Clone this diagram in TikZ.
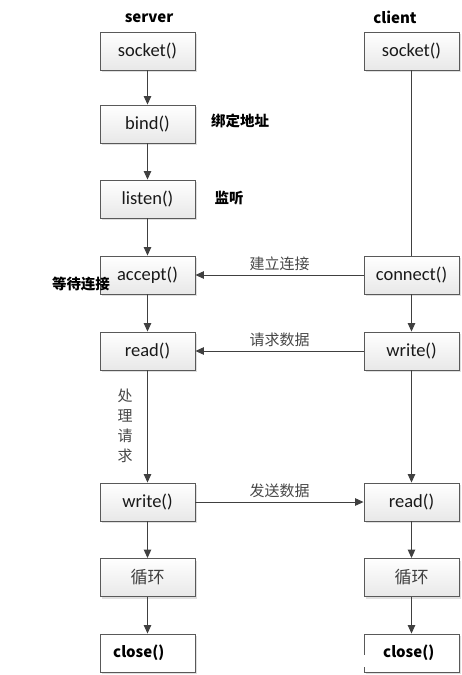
\documentclass[tikz,border=0pt]{standalone}
\usepackage{fontspec}
\setmainfont{Carlito}
\newfontfamily\cjk{Noto Sans CJK SC}
\usetikzlibrary{arrows.meta,shadows}
\definecolor{edge}{HTML}{595959}
\definecolor{wire}{HTML}{404040}
\begin{document}
\begin{tikzpicture}[x=1pt,y=1pt,
  fn/.style={draw=edge, line width=0.9pt, minimum width=95pt, minimum height=38pt,
    inner sep=0pt, top color=white, bottom color=black!9, text=black!90,
    font=\fontsize{18.5}{21}\selectfont,
    drop shadow={shadow xshift=2pt, shadow yshift=-2pt, fill=black!18, opacity=0.7}},
  endbox/.style={draw=edge, line width=0.9pt, minimum width=95pt, minimum height=38pt,
    inner sep=0pt, fill=white,
    drop shadow={shadow xshift=2pt, shadow yshift=-2pt, fill=black!18, opacity=0.7}},
  boldlbl/.style={font=\cjk\bfseries\fontsize{14.5}{17}\selectfont, text=black, inner sep=0pt},
  headlbl/.style={font=\cjk\bfseries\fontsize{15}{18}\selectfont, text=black, inner sep=0pt},
  msglbl/.style={font=\cjk\fontsize{15}{18}\selectfont, text=black!72, inner sep=0pt},
  flow/.style={draw=wire, line width=1pt, -{Triangle[width=7.5pt,length=8.5pt]}},
  wireline/.style={draw=wire, line width=1pt}]
\useasboundingbox (0,0) rectangle (462,-675);

% column headings
\node[headlbl] (hs) at (149,-18) {server};
\node[headlbl] (hc) at (395,-17) {client};

% server side
\node[fn] (ssock)   at (147.5,-51)  {socket()};
\node[fn] (sbind)   at (147.5,-124) {bind()};
\node[fn] (slisten) at (147.5,-199) {listen()};
\node[fn] (saccept) at (147.5,-275) {accept()};
\node[fn] (sread)   at (147.5,-351) {read()};
\node[fn] (swrite)  at (147.5,-502) {write()};
\node[fn, font=\cjk\fontsize{17}{20}\selectfont, text=black!75] (sloop) at (147.5,-577.5) {循环};
\node[endbox] (sclose) at (147.5,-653) {};
\node[headlbl, anchor=west] (sclosetxt) at (113,-653) {close()};

% client side
\node[fn] (csock)    at (411.5,-51)  {socket()};
\node[fn] (cconnect) at (411.5,-275) {connect()};
\node[fn] (cwrite)   at (411.5,-351) {write()};
\node[fn] (cread)    at (411.5,-502) {read()};
\node[fn, font=\cjk\fontsize{17}{20}\selectfont, text=black!75] (cloop) at (411.5,-577.5) {循环};
\node[endbox] (cclose) at (411.5,-653) {};
\fill[white] (362.5,-655) rectangle (366,-667);
\node[headlbl, anchor=west] (cclosetxt) at (383,-653) {close()};

% side notes
\node[boldlbl] (nbind)   at (240,-121) {绑定地址};
\node[boldlbl] (nlisten) at (229,-198) {监听};
\node[boldlbl] (nwait)   at (81,-284)  {等待连接};

% server flow
\draw[flow] (ssock) -- (sbind);
\draw[flow] (sbind) -- (slisten);
\draw[flow] (slisten) -- (saccept);
\draw[flow] (saccept) -- (sread);
\draw[flow] (sread) -- (swrite);
\draw[flow] (swrite) -- (sloop);
\draw[flow] (sloop) -- (sclose);
\node[msglbl, align=center] (nproc) at (125,-426)
  {处\\[2pt]理\\[2pt]请\\[2pt]求};

% client flow
\draw[wireline] (csock) -- (cconnect);
\draw[flow] (cconnect) -- (cwrite);
\draw[flow] (cwrite) -- (cread);
\draw[flow] (cread) -- (cloop);
\draw[flow] (cloop) -- (cclose);

% messages between the two sides
\draw[flow] (cconnect) -- node[msglbl, above=4pt] {建立连接} (saccept);
\draw[flow] (cwrite) -- node[msglbl, above=4pt] {请求数据} (sread);
\draw[flow] (swrite) -- node[msglbl, above=4pt] {发送数据} (cread);
\end{tikzpicture}
\end{document}
